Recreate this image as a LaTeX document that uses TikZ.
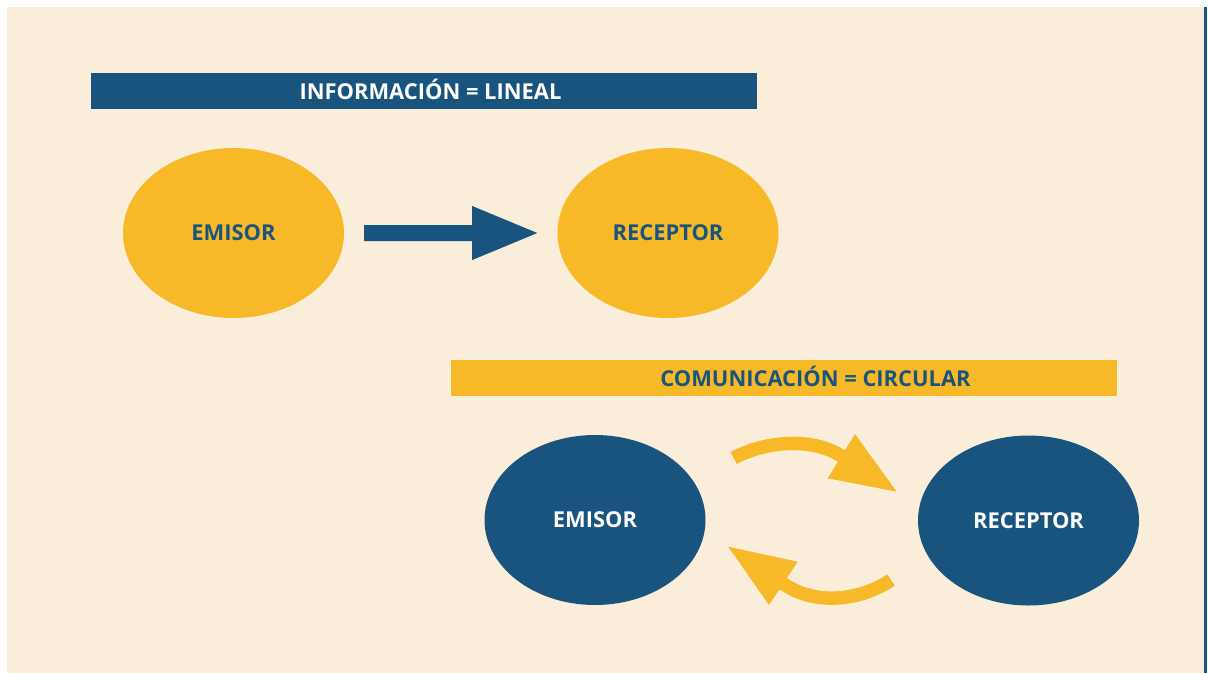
\documentclass[tikz,border=0pt]{standalone}
\usepackage{fontspec}
\setmainfont{Open Sans}
\usetikzlibrary{shapes.geometric,calc}
\definecolor{bg}{RGB}{250,237,217}
\definecolor{gold}{RGB}{247,185,40}
\definecolor{navy}{RGB}{25,84,127}
\tikzset{
  bubble/.style={ellipse, minimum width=221pt, minimum height=170pt, inner sep=0pt,
    font=\bfseries\fontsize{21.9}{22}\selectfont},
  bar/.style={rectangle, minimum width=666pt, minimum height=36pt, inner sep=0pt},
  headtext/.style={anchor=base, inner sep=0pt, font=\bfseries\fontsize{21.9}{22}\selectfont},
  curvearrow/.style={draw=gold, line width=13.5pt},
}
\begin{document}
\begin{tikzpicture}[x=1pt,y=-1pt]
\useasboundingbox (0,0) rectangle (1208,673);
\fill[white] (0,0) rectangle (1208,673);
\fill[bg] (7,7) rectangle (1204,673);
\fill[navy] (1204,7) rectangle (1206.5,673);

% linear part
\node[bar, fill=navy] (h1) at (424,91) {};
\node[headtext, text=white] (t1) at (430.5,99.5) {INFORMACIÓN = LINEAL};
\node[bubble, fill=gold, text=navy] (e1) at (233.5,233) {EMISOR};
\node[bubble, fill=gold, text=navy] (r1) at (668,233) {RECEPTOR};

\coordinate (a1s) at ([xshift=20pt]e1.east);
\coordinate (a1e) at ([xshift=-20pt]r1.west);
\fill[navy] ($(a1s)+(0,-8)$) -- ($(a1s)+(108,-8)$) -- ($(a1s)+(108,-27)$) -- (a1e)
  -- ($(a1s)+(108,27)$) -- ($(a1s)+(108,8)$) -- ($(a1s)+(0,8)$) -- cycle;

% circular part
\node[bar, fill=gold] (h2) at (784,378) {};
\node[headtext, text=navy] (t2) at (815.5,386.5) {COMUNICACIÓN = CIRCULAR};
\node[bubble, fill=navy, text=white] (e2) at (595,520) {EMISOR};
\node[bubble, fill=navy, text=white] (r2) at (1028.5,520.5) {RECEPTOR};

\coordinate (c1s) at (733.7,458);
\coordinate (c1e) at (845.2,458.7);
\draw[curvearrow] (c1s) .. controls (765,441) and (815,436) .. (c1e);
\fill[gold] (855,434) -- (896.7,491.7) -- (827.7,478.3) -- cycle;

\coordinate (c2s) at (891,580);
\coordinate (c2e) at (779.2,580.6);
\draw[curvearrow] (c2s) .. controls (860,601) and (812,607) .. (c2e);
\fill[gold] (728.3,546.7) -- (797.7,561.7) -- (769,605) -- cycle;
\end{tikzpicture}
\end{document}
